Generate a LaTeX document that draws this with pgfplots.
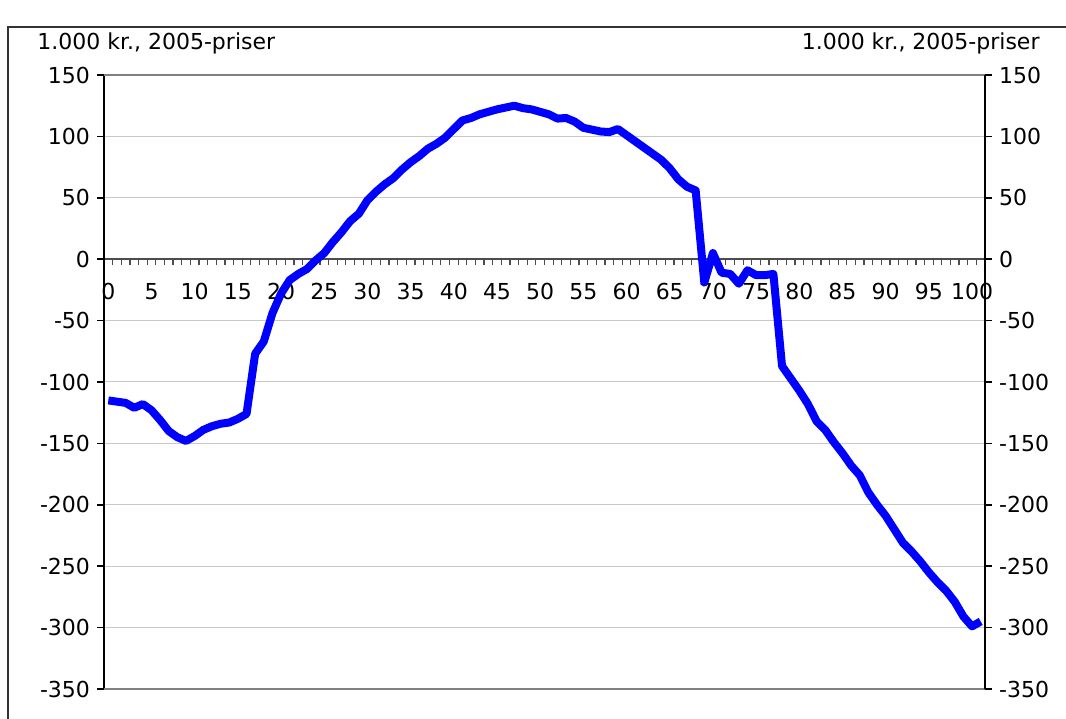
\documentclass[border=0pt]{standalone}
\usepackage{fontspec}
\setmainfont{DejaVu Sans}
\usepackage{pgfplots}
\pgfplotsset{compat=1.18}
\usepackage{pgfplotstable}
\pgfplotstableread{
age val
0 -115
1 -116
2 -117
3 -121
4 -118
5 -123
6 -131
7 -140
8 -145
9 -148
10 -144
11 -139
12 -136
13 -134
14 -133
15 -130
16 -126
17 -77
18 -67
19 -44
20 -28
21 -17
22 -12
23 -8
24 -1
25 5
26 14
27 22
28 31
29 37
30 48
31 55
32 61
33 66
34 73
35 79
36 84
37 90
38 94
39 99
40 106
41 113
42 115
43 118
44 120
45 122
46 123.5
47 125
48 123
49 122
50 120
51 118
52 114.5
53 115
54 112
55 107
56 105.5
57 104
58 103.5
59 106
60 101
61 96
62 91
63 86
64 81
65 74
66 65
67 59
68 56
69 -19
70 5
71 -11
72 -12
73 -20
74 -9
75 -13
76 -13
77 -12
78 -87
79 -97
80 -107
81 -118
82 -132
83 -139
84 -149
85 -158
86 -168
87 -176
88 -190
89 -200
90 -209
91 -220
92 -231
93 -238
94 -246
95 -255
96 -263
97 -270
98 -279
99 -291
100 -299
101 -295
}\datatable
\definecolor{gridgray}{RGB}{200,200,200}
\definecolor{bordergray}{RGB}{128,128,128}
\begin{document}
\begin{tikzpicture}[font=\fontsize{11}{13.2}\selectfont]
\useasboundingbox (0,0) rectangle (533pt,359pt);
\draw[black!80, line width=1pt] (4pt,-5pt) -- (4pt,345.5pt) -- (540pt,345.5pt);
\node[anchor=west, inner sep=0pt] at (18.5pt,337.5pt) {1.000 kr., 2005-priser};
\node[anchor=east, inner sep=0pt] at (520pt,337.5pt) {1.000 kr., 2005-priser};
\begin{axis}[
  at={(52pt,14.5pt)}, anchor=south west,
  scale only axis, width=440.5pt, height=307pt,
  xmin=-0.5, xmax=101.5, ymin=-350, ymax=150,
  axis x line=middle, axis y line=left,
  axis line style={-},
  x axis line style={draw=black!70, line width=0.8pt},
  y axis line style={draw=black, line width=1pt},
  xtick={0,5,...,100},
  xticklabels={0,5,10,15,20,25,30,35,40,45,50,55,60,65,70,75,80,85,90,95,100},
  minor xtick={-0.5,0.5,...,101.5},
  major x tick style={draw=none},
  minor x tick style={draw=black!70, line width=0.6pt},
  minor tick length=3pt,
  major tick length=3.5pt,
  tick align=outside,
  xticklabel style={anchor=north, yshift=-5pt},
  ytick={-350,-300,...,150},
  yticklabels={-350,-300,-250,-200,-150,-100,-50,0,50,100,150},
  major y tick style={draw=black, line width=0.8pt},
  ymajorgrids,
  major grid style={draw=gridgray, line width=0.5pt},
  clip=false,
]
\draw[bordergray, line width=1.2pt] (rel axis cs:0,1) -- (rel axis cs:1,1);
\draw[bordergray, line width=1.2pt] (rel axis cs:0,0) -- (rel axis cs:1,0);
\addplot[color={rgb,255:red,0;green,0;blue,255}, line width=4pt, line join=round, line cap=butt] table[x=age, y=val] {\datatable};
\end{axis}
\begin{axis}[
  at={(52pt,14.5pt)}, anchor=south west,
  scale only axis, width=440.5pt, height=307pt,
  xmin=-0.5, xmax=101.5, ymin=-350, ymax=150,
  axis x line=none, axis y line=right,
  axis line style={-},
  y axis line style={draw=black, line width=1pt},
  ytick={-350,-300,...,150},
  yticklabels={-350,-300,-250,-200,-150,-100,-50,0,50,100,150},
  major tick length=3.5pt,
  tick align=outside,
  major y tick style={draw=black, line width=0.8pt},
  xtick=\empty,
]
\end{axis}
\end{tikzpicture}
\end{document}
